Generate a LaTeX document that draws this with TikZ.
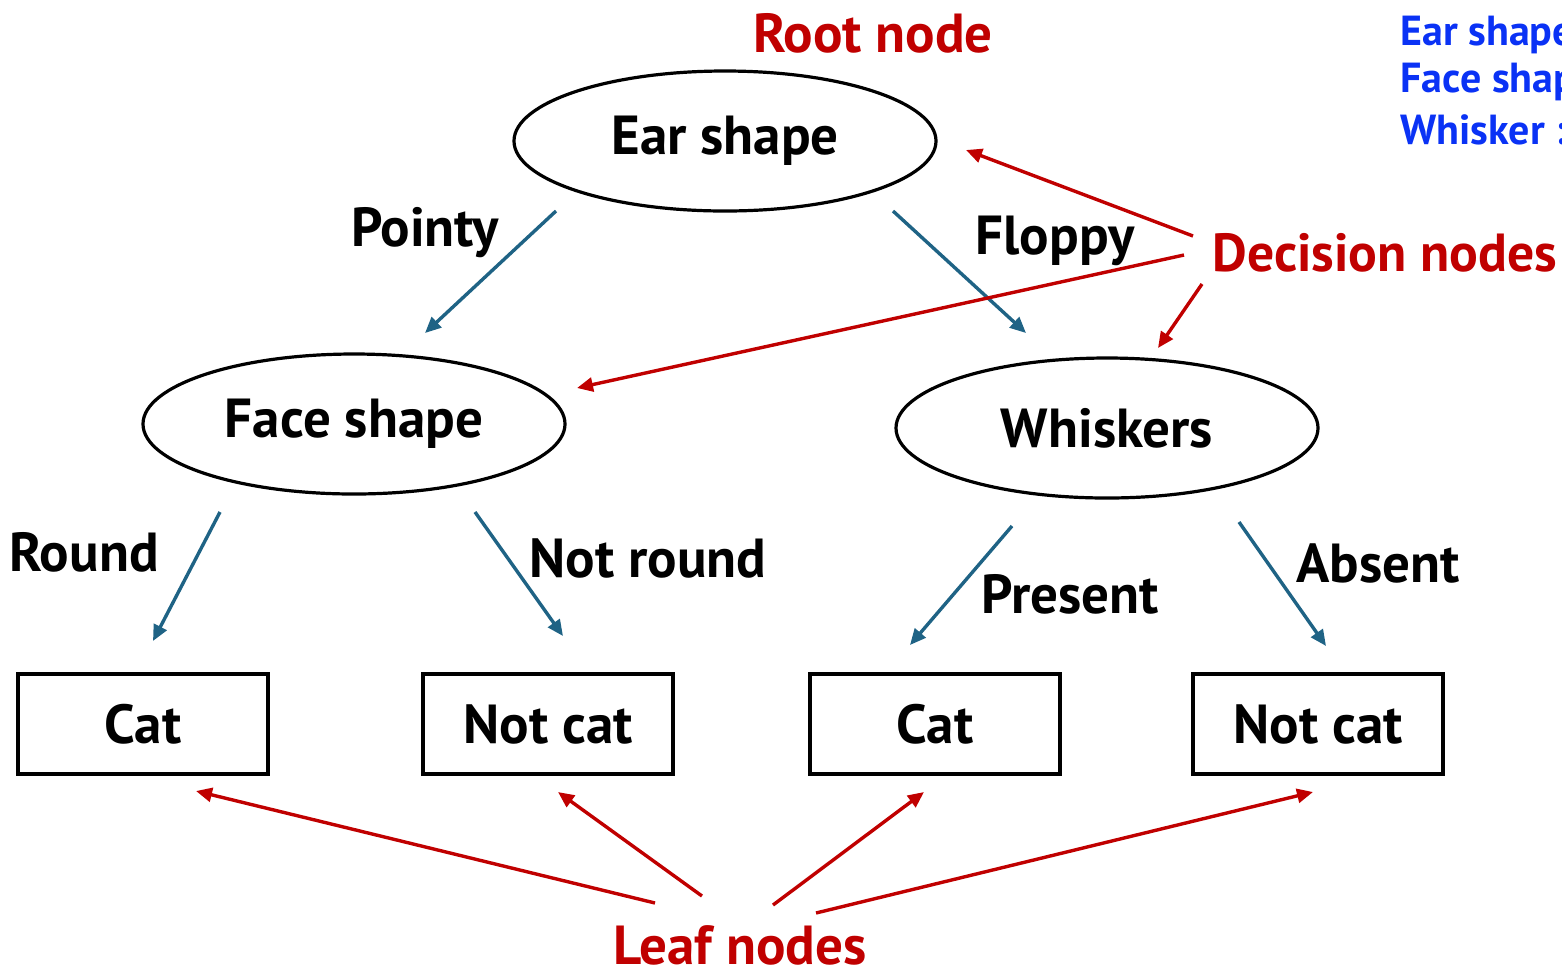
\documentclass[tikz,border=0pt]{standalone}
\usepackage{fontspec}
\setmainfont{PT Sans}
\usetikzlibrary{arrows.meta,shapes.geometric}
\definecolor{rednote}{HTML}{C00000}
\definecolor{bluearrow}{HTML}{1F6385}
\definecolor{bluenote}{HTML}{0A32F5}
\tikzset{
  bigfont/.style={font=\fontsize{27.5}{32}\selectfont\bfseries},
  decision/.style={ellipse,draw=black,line width=1.6pt,minimum width=211pt,minimum height=70pt,inner sep=0pt,bigfont},
  leaf/.style={rectangle,draw=black,line width=1.6pt,minimum width=125pt,minimum height=50pt,inner sep=0pt,bigfont},
  edgelabel/.style={bigfont,inner sep=0pt},
  rednotetext/.style={text=rednote,bigfont,inner sep=0pt},
  bluenotetext/.style={text=bluenote,font=\fontsize{21}{25}\selectfont\bfseries,inner sep=0pt,anchor=west},
  treearrow/.style={draw=bluearrow,line width=1.7pt,-{Triangle[length=8pt,width=7pt]}},
  notearrow/.style={draw=rednote,line width=1.7pt,-{Triangle[length=8pt,width=7pt]}}
}
\begin{document}
\begin{tikzpicture}[x=0.5pt,y=-0.5pt]
\useasboundingbox (0,0) rectangle (1562,971);
\clip (0,0) rectangle (1562,971);
% decision nodes
\node[decision] (ear) at (725,141) {Ear shape};
\node[decision] (face) at (354,424) {Face shape};
\node[decision] (whisk) at (1107,428) {Whiskers};
% leaves
\node[leaf] (cat1) at (143,724) {Cat};
\node[leaf] (notcat1) at (548,724) {Not cat};
\node[leaf] (cat2) at (935,724) {Cat};
\node[leaf] (notcat2) at (1318,724) {Not cat};
% edge labels
\node[edgelabel] (pointy) at (425,233) {Pointy};
\node[edgelabel] (floppy) at (1055,241) {Floppy};
\node[edgelabel] (round) at (84,552) {Round};
\node[edgelabel] (notround) at (648,558) {Not round};
\node[edgelabel] (present) at (1070,594) {Present};
\node[edgelabel] (absent) at (1378,563) {Absent};
% notes
\node[rednotetext] (rootlbl) at (873,33) {Root node};
\node[rednotetext,anchor=west,font=\fontsize{26.8}{31}\selectfont\bfseries] (declbl) at (1212,253) {Decision nodes};
\node[rednotetext,anchor=base,text depth=0pt] (leaflbl) at (740,964) {Leaf nodes};
\node[bluenotetext] (legend1) at (1400,35) {Ear shape};
\node[bluenotetext] (legend2) at (1400,82) {Face shape};
\node[bluenotetext] (legend3) at (1400,130) {Whisker :};
% tree arrow endpoints
\coordinate (a1s) at (556,211); \coordinate (a1e) at (425,333);
\coordinate (a2s) at (893,211); \coordinate (a2e) at (1026,333);
\coordinate (a3s) at (220,512); \coordinate (a3e) at (153,641);
\coordinate (a4s) at (475,512); \coordinate (a4e) at (563,636);
\coordinate (a5s) at (1012,526); \coordinate (a5e) at (910,645);
\coordinate (a6s) at (1239,522); \coordinate (a6e) at (1326,646);
\draw[treearrow] (a1s) -- (a1e);
\draw[treearrow] (a2s) -- (a2e);
\draw[treearrow] (a3s) -- (a3e);
\draw[treearrow] (a4s) -- (a4e);
\draw[treearrow] (a5s) -- (a5e);
\draw[treearrow] (a6s) -- (a6e);
% note arrows
\coordinate (d1s) at (1193,236); \coordinate (d1e) at (966,150);
\coordinate (d2s) at (1184,255); \coordinate (d2e) at (577,388);
\coordinate (d3s) at (1202,284); \coordinate (d3e) at (1158,348);
\draw[notearrow] (d1s) -- (d1e);
\draw[notearrow] (d2s) -- (d2e);
\draw[notearrow] (d3s) -- (d3e);
\coordinate (l1s) at (655,903); \coordinate (l1e) at (196,791);
\coordinate (l2s) at (702,896); \coordinate (l2e) at (558,792);
\coordinate (l3s) at (773,905); \coordinate (l3e) at (924,792);
\coordinate (l4s) at (816,913); \coordinate (l4e) at (1313,792);
\draw[notearrow] (l1s) -- (l1e);
\draw[notearrow] (l2s) -- (l2e);
\draw[notearrow] (l3s) -- (l3e);
\draw[notearrow] (l4s) -- (l4e);
\end{tikzpicture}
\end{document}
